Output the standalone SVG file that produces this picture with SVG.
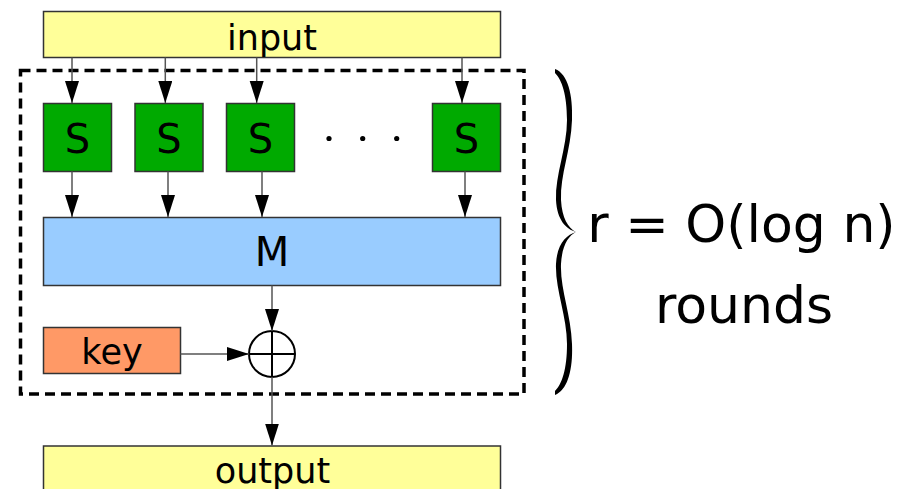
<svg xmlns="http://www.w3.org/2000/svg" width="906" height="489" viewBox="0 0 906 489">
  <defs>
    <marker id="arrow" markerUnits="userSpaceOnUse" markerWidth="24" markerHeight="16" refX="22" refY="7" orient="auto">
      <path d="M0,0 L22,7 L0,14 Z" fill="#000"/>
    </marker>
    <style>
      .box { stroke: #333; stroke-width: 1.5; }
      .io { fill: #ffff99; }
      .sbox { fill: #00aa00; }
      .mix { fill: #99ccff; }
      .key { fill: #ff9966; }
      .lbl { font-family: "DejaVu Sans", "Liberation Sans", sans-serif; fill: #000; text-anchor: middle; }
      .conn { stroke: #555; stroke-width: 1.5; fill: none; marker-end: url(#arrow); }
    </style>
  </defs>
  <rect width="906" height="489" fill="#fff"/>

  <!-- one round -->
  <rect id="round" x="20.5" y="70.5" width="503.5" height="323.5" fill="none" stroke="#000" stroke-width="3.5" stroke-dasharray="10,6"/>

  <g id="input">
    <rect class="box io" x="43.5" y="11.5" width="457" height="46"/>
    <text class="lbl" x="272" y="50" font-size="35">input</text>
  </g>

  <g id="s1">
    <rect class="box sbox" x="43.5" y="103.5" width="68" height="68"/>
    <text class="lbl" x="77.5" y="153" font-size="40">S</text>
  </g>
  <g id="s2">
    <rect class="box sbox" x="135" y="103.5" width="68" height="68"/>
    <text class="lbl" x="169" y="153" font-size="40">S</text>
  </g>
  <g id="s3">
    <rect class="box sbox" x="226.5" y="103.5" width="68" height="68"/>
    <text class="lbl" x="260.5" y="153" font-size="40">S</text>
  </g>
  <g id="dots" fill="#000">
    <circle cx="329" cy="138.5" r="2.6"/>
    <circle cx="362.7" cy="138.5" r="2.6"/>
    <circle cx="396.7" cy="138.5" r="2.6"/>
  </g>
  <g id="s4">
    <rect class="box sbox" x="432.5" y="103.5" width="68" height="68"/>
    <text class="lbl" x="466.5" y="153" font-size="40">S</text>
  </g>

  <g id="mix">
    <rect class="box mix" x="43.5" y="217.5" width="457" height="68"/>
    <text class="lbl" x="272" y="266" font-size="40">M</text>
  </g>

  <g id="key">
    <rect class="box key" x="43.5" y="327.5" width="137" height="46"/>
    <text class="lbl" x="112" y="364" font-size="35">key</text>
  </g>

  <g id="xor" fill="none" stroke="#000" stroke-width="2">
    <circle cx="272" cy="354" r="23"/>
    <line x1="249" y1="354" x2="295" y2="354"/>
    <line x1="272" y1="331" x2="272" y2="377"/>
  </g>

  <g id="output">
    <rect class="box io" x="43.5" y="446" width="457" height="50"/>
    <text class="lbl" x="272.5" y="483" font-size="35">output</text>
  </g>

  <g id="connectors">
    <line class="conn" x1="72" y1="57.5" x2="72" y2="103"/>
    <line class="conn" x1="165.3" y1="57.5" x2="165.3" y2="103"/>
    <line class="conn" x1="256.7" y1="57.5" x2="256.7" y2="103"/>
    <line class="conn" x1="462" y1="57.5" x2="462" y2="103"/>
    <line class="conn" x1="72" y1="171.5" x2="72" y2="217"/>
    <line class="conn" x1="168" y1="171.5" x2="168" y2="217"/>
    <line class="conn" x1="262" y1="171.5" x2="262" y2="217"/>
    <line class="conn" x1="465" y1="171.5" x2="465" y2="217"/>
    <line class="conn" x1="272" y1="285.5" x2="272" y2="331"/>
    <line class="conn" x1="180.5" y1="354" x2="249" y2="354"/>
    <line class="conn" x1="272" y1="377" x2="272" y2="445.5"/>
  </g>

  <!-- brace spanning the round: upper and lower halves, tapered -->
  <g id="brace" fill="#000">
    <path d="M555,69 C568,74 573,95 572,120 C571,150 560,175 561,200 C562,218 568,228 576,232 C566,229 557,220 556,200 C555,175 567,148 567,120 C567,95 562,80 555,73 Z"/>
    <path d="M555,395 C568,390 573,369 572,344 C571,314 560,289 561,264 C562,246 568,236 576,232 C566,235 557,244 556,264 C555,289 567,316 567,344 C567,369 562,384 555,391 Z"/>
  </g>

  <g id="annotation">
    <text class="lbl" x="741.5" y="242" font-size="52">r = O(log n)</text>
    <text class="lbl" x="744" y="323" font-size="52">rounds</text>
  </g>
</svg>
